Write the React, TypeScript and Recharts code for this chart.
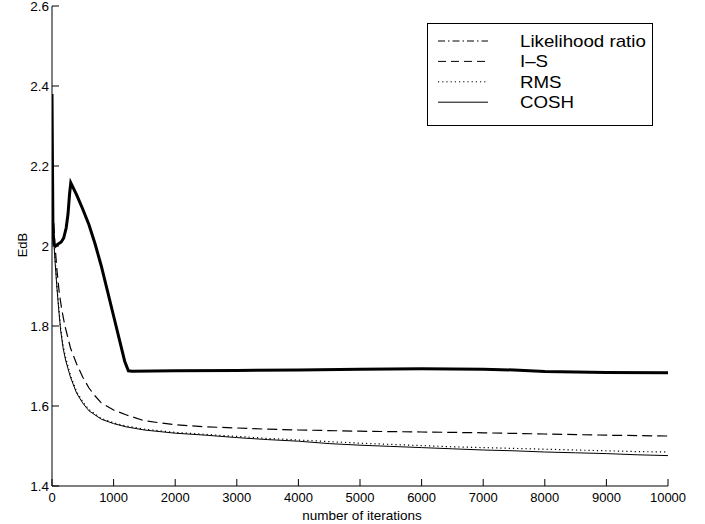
import React from 'react';
import { LineChart, Line, XAxis, YAxis, Legend } from 'recharts';

const xTicks = [0, 1000, 2000, 3000, 4000, 5000, 6000, 7000, 8000, 9000, 10000];
const yTicks = [1.4, 1.6, 1.8, 2, 2.2, 2.4, 2.6];

const seriesNames = ['Likelihood ratio', 'I\u2013S', 'RMS', 'COSH'];

const lrIter = [0, 8, 15, 30, 60, 100, 150, 190, 230, 260, 285, 305, 400, 500, 600, 700, 800, 900, 1000, 1100, 1180, 1240, 1300, 2000, 3000, 4000, 5000, 6000, 7000, 7500, 8000, 9000, 10000];
const lrVal = [2.38, 2.2, 2.05, 2.005, 2.0, 2.005, 2.01, 2.02, 2.045, 2.08, 2.13, 2.158, 2.128, 2.092, 2.053, 2.005, 1.95, 1.888, 1.825, 1.762, 1.712, 1.688, 1.687, 1.688, 1.689, 1.69, 1.692, 1.693, 1.692, 1.69, 1.686, 1.684, 1.683];

const isIter = [0, 20, 50, 80, 120, 160, 210, 300, 400, 500, 600, 700, 800, 1000, 1200, 1500, 2000, 2500, 3000, 3500, 4000, 5000, 6000, 7000, 8000, 9000, 10000];
const isVal = [2.17, 2.08, 2.0, 1.94, 1.88, 1.84, 1.8, 1.745, 1.705, 1.672, 1.645, 1.625, 1.608, 1.59, 1.578, 1.563, 1.553, 1.548, 1.545, 1.542, 1.54, 1.537, 1.535, 1.533, 1.53, 1.527, 1.525];

const rmsIter = [0, 25, 50, 80, 110, 140, 180, 220, 300, 400, 500, 600, 800, 1000, 1200, 1500, 2000, 2500, 3000, 3500, 4000, 4500, 5000, 5500, 6000, 6500, 7000, 7500, 8000, 8500, 9000, 9500, 10000];
const rmsVal = [2.12, 2.04, 1.97, 1.9, 1.845, 1.795, 1.752, 1.722, 1.676, 1.636, 1.61, 1.591, 1.569, 1.558, 1.55, 1.542, 1.534, 1.529, 1.524, 1.519, 1.515, 1.511, 1.507, 1.504, 1.501, 1.498, 1.496, 1.494, 1.492, 1.49, 1.488, 1.486, 1.485];

const coshIter = [0, 25, 50, 80, 110, 140, 180, 220, 300, 400, 500, 600, 800, 1000, 1200, 1500, 2000, 2500, 3000, 3500, 4000, 4500, 5000, 5500, 6000, 6500, 7000, 7500, 8000, 8500, 9000, 9500, 10000];
const coshVal = [2.08, 2.02, 1.96, 1.895, 1.84, 1.79, 1.745, 1.715, 1.672, 1.632, 1.607, 1.588, 1.567, 1.556, 1.548, 1.54, 1.532, 1.527, 1.521, 1.516, 1.512, 1.506, 1.502, 1.499, 1.496, 1.493, 1.49, 1.488, 1.485, 1.483, 1.481, 1.478, 1.476];

const toData = (xs: number[], ys: number[]) => xs.map((x, i) => ({ x, y: ys[i] }));
const lrData = toData(lrIter, lrVal);
const isData = toData(isIter, isVal);
const rmsData = toData(rmsIter, rmsVal);
const coshData = toData(coshIter, coshVal);

const FONT = '"Liberation Sans", Arial, Helvetica, sans-serif';
const TICK = 7;

const BottomTick = (p: any) => (
  <g>
    <line x1={p.x} x2={p.x} y1={p.y} y2={p.y - TICK} stroke="#000" />
    <text x={p.x} y={p.y + 16} textAnchor="middle" fontSize={13} fontFamily={FONT} fill="#000">
      {p.payload.value}
    </text>
  </g>
);
const TopTick = (p: any) => (
  <line x1={p.x} x2={p.x} y1={p.y} y2={p.y + TICK} stroke="#000" />
);
const LeftTick = (p: any) => (
  <g>
    <line x1={p.x} x2={p.x + TICK} y1={p.y} y2={p.y} stroke="#000" />
    <text x={p.x - 3} y={p.y + 4.5} textAnchor="end" fontSize={13.5} fontFamily={FONT} fill="#000">
      {String(p.payload.value)}
    </text>
  </g>
);
const RightTick = (p: any) => (
  <line x1={p.x} x2={p.x - TICK} y1={p.y} y2={p.y} stroke="#000" />
);

const legendDash = ['7 3 1.5 3', '8 5', '1.2 3', ''];

const LegendBox = () => (
  <svg width={226} height={103} style={{ display: 'block' }}>
    <rect x={0.5} y={0.5} width={225} height={102} fill="#fff" stroke="#000" />
    {seriesNames.map((n, i) => {
      const cy = 18 + i * 20.4;
      return (
        <g key={n}>
          <line x1={11} x2={61} y1={cy} y2={cy} stroke="#000" strokeWidth={1} strokeDasharray={legendDash[i] || undefined} />
          <g transform={`translate(93 ${cy + 6}) scale(1.17 1)`}>
            <text x={0} y={0} fontSize={16} fontFamily={FONT} fill="#000">{n}</text>
          </g>
        </g>
      );
    })}
  </svg>
);

export default function App() {
  return (
    <div style={{ position: 'absolute', left: 0, top: 0, background: '#fff' }}>
      <LineChart width={705} height={524} margin={{ top: 6, right: 37, bottom: 0, left: 0 }}>
        <XAxis
          xAxisId="b"
          type="number"
          dataKey="x"
          domain={[0, 10000]}
          ticks={xTicks}
          allowDataOverflow
          height={38}
          tickSize={0}
          tickMargin={0}
          tickLine={false}
          tick={BottomTick}
          axisLine={{ stroke: '#000' }}
          interval={0}
          label={() => (
            <text x={362} y={520} textAnchor="middle" fontSize={13.5} fontFamily={FONT} fill="#000">
              number of iterations
            </text>
          )}
        />
        <XAxis
          xAxisId="t"
          orientation="top"
          type="number"
          dataKey="x"
          domain={[0, 10000]}
          ticks={xTicks}
          allowDataOverflow
          height={0}
          tickSize={0}
          tickMargin={0}
          tickLine={false}
          tick={TopTick}
          axisLine={{ stroke: '#000' }}
          interval={0}
        />
        <YAxis
          yAxisId="l"
          type="number"
          domain={[1.4, 2.6]}
          ticks={yTicks}
          allowDataOverflow
          width={52}
          tickSize={0}
          tickMargin={0}
          tickLine={false}
          tick={LeftTick}
          axisLine={{ stroke: '#000' }}
          interval={0}
          label={() => (
            <text x={22} y={245} transform="rotate(-90 22 245)" textAnchor="middle" dominantBaseline="central" fontSize={13} fontFamily={FONT} fill="#000">
              EdB
            </text>
          )}
        />
        <YAxis
          yAxisId="r"
          orientation="right"
          type="number"
          domain={[1.4, 2.6]}
          ticks={yTicks}
          allowDataOverflow
          width={0}
          tickSize={0}
          tickMargin={0}
          tickLine={false}
          tick={RightTick}
          axisLine={{ stroke: '#000' }}
          interval={0}
        />
        <Line xAxisId="b" yAxisId="l" data={coshData} dataKey="y" name={seriesNames[3]} stroke="#000" strokeWidth={1} dot={false} type="linear" isAnimationActive={false} />
        <Line xAxisId="b" yAxisId="l" data={rmsData} dataKey="y" name={seriesNames[2]} stroke="#000" strokeWidth={1.2} strokeDasharray="1.2 3" dot={false} type="linear" isAnimationActive={false} />
        <Line xAxisId="b" yAxisId="l" data={isData} dataKey="y" name={seriesNames[1]} stroke="#000" strokeWidth={1.2} strokeDasharray="10 5" dot={false} type="linear" isAnimationActive={false} />
        <Line xAxisId="b" yAxisId="l" data={lrData} dataKey="y" name={seriesNames[0]} stroke="#000" strokeWidth={3} dot={false} type="linear" isAnimationActive={false} />
        <Legend
          layout="horizontal"
          verticalAlign="middle"
          align="center"
          wrapperStyle={{ left: 427, top: 23, width: 226, height: 103 }}
          content={() => <LegendBox />}
        />
      </LineChart>
    </div>
  );
}
